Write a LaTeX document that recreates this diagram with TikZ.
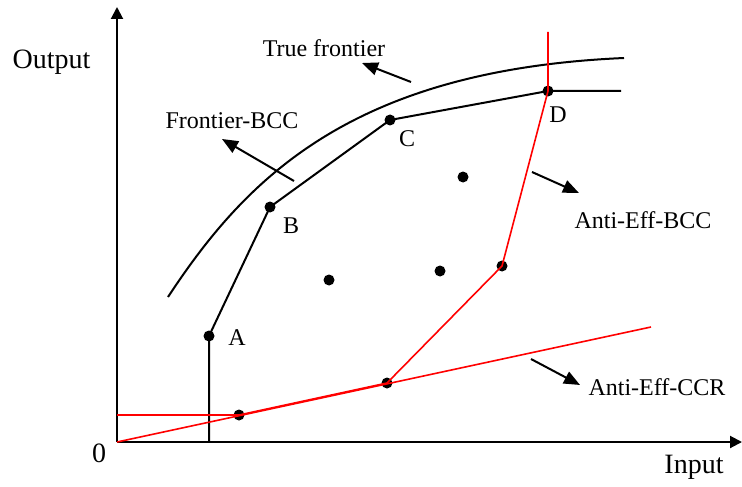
\documentclass[tikz,border=0pt]{standalone}
\usepackage{fontspec}
\setmainfont{Liberation Serif}
\usetikzlibrary{arrows.meta}

\begin{document}
\begin{tikzpicture}[x=0.5pt,y=-0.5pt,
  dot/.style={circle,fill=black,inner sep=0pt,minimum size=5.5pt},
  txt/.style={font=\fontsize{12}{14}\selectfont,inner sep=0pt},
  axlab/.style={font=\fontsize{14}{16}\selectfont,inner sep=0pt},
  pointer/.style={line width=1pt,-{Triangle[length=8pt,width=6.5pt]}},
  axis/.style={line width=1pt,-{Triangle[length=6pt,width=6pt]}},
  frontier/.style={line width=1pt},
  anti/.style={red,line width=0.8pt}]
  \useasboundingbox (0,0) rectangle (742,486);
  % axes
  \coordinate (O) at (117,442);
  \coordinate (ytop) at (117,7);
  \coordinate (xend) at (742,442);
  \draw[axis] (O) -- (ytop);
  \draw[axis] (O) -- (xend);
  \node[axlab] (ylab) at (51.5,62) {Output};
  \node[axlab] (xlab) at (694,467) {Input};
  \node[axlab] (zero) at (99,453) {0};
  % true frontier
  \coordinate (tfs) at (168,297);
  \coordinate (tfe) at (624,58);
  \draw[frontier] (tfs) .. controls (245,180) and (350,70) .. (tfe);
  % observed units
  \node[dot] (A) at (209,336) {};
  \node[dot] (B) at (270,207) {};
  \node[dot] (C) at (390,120) {};
  \node[dot] (D) at (548,91) {};
  \node[dot] (E) at (239,415) {};
  \node[dot] (F) at (387,383) {};
  \node[dot] (G) at (502,266) {};
  \node[dot] (H) at (463,177) {};
  \node[dot] (I) at (329,280) {};
  \node[dot] (J) at (440,271) {};
  \node[txt] (labA) at (237,338) {A};
  \node[txt] (labB) at (291,226) {B};
  \node[txt] (labC) at (407,139) {C};
  \node[txt] (labD) at (558,115) {D};
  % frontier BCC
  \coordinate (Abase) at (209,442);
  \coordinate (Dend) at (621,91);
  \draw[frontier] (Abase) -- (A.center) -- (B.center) -- (C.center) -- (D.center) -- (Dend);
  % anti-efficient frontiers
  \coordinate (yE) at (117,415);
  \coordinate (ccrend) at (651,327);
  \coordinate (Dtop) at (548,32);
  \draw[anti] (O) -- (ccrend);
  \draw[anti] (yE) -- (E.center) -- (F.center) -- (G.center) -- (D.center) -- (Dtop);
  % annotations
  \node[txt] (tflab) at (324,48) {True frontier};
  \node[txt] (bcclab) at (232,121) {Frontier-BCC};
  \node[txt] (abcclab) at (643,220) {Anti-Eff-BCC};
  \node[txt] (accrlab) at (657,387) {Anti-Eff-CCR};
  \coordinate (tf1) at (411,82);
  \coordinate (tf2) at (362,63);
  \coordinate (bcc1) at (294,181);
  \coordinate (bcc2) at (222,139);
  \coordinate (abcc1) at (532,172);
  \coordinate (abcc2) at (579,193);
  \coordinate (accr1) at (531,359);
  \coordinate (accr2) at (580,385);
  \draw[pointer] (tf1) -- (tf2);
  \draw[pointer] (bcc1) -- (bcc2);
  \draw[pointer] (abcc1) -- (abcc2);
  \draw[pointer] (accr1) -- (accr2);
\end{tikzpicture}
\end{document}
